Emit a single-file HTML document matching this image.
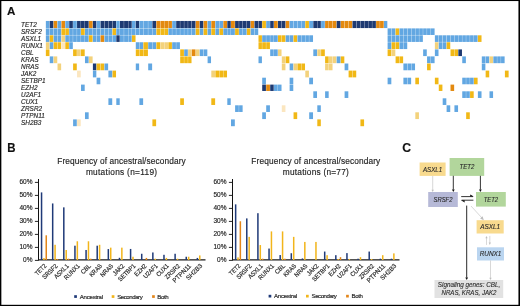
<!DOCTYPE html><html><head><meta charset="utf-8"><style>html,body{margin:0;padding:0;background:#fff;}body{width:520px;height:306px;overflow:hidden;position:relative;}svg{position:absolute;left:0;top:0;display:block;will-change:transform;}text{font-family:"Liberation Sans",sans-serif;stroke:#2a2a2a;stroke-width:0.16px;}.ns{stroke-width:0.12px;}</style></head><body><svg width="520" height="306" viewBox="0 0 520 306"><rect x="0" y="0" width="520" height="306" fill="#fff"/><text x="7" y="14.9" font-size="11.6" font-weight="bold" fill="#111">A</text><text x="7.2" y="151.7" font-size="12" font-weight="bold" fill="#111" textLength="8.3" lengthAdjust="spacingAndGlyphs">B</text><text x="402.2" y="151.6" font-size="12.2" font-weight="bold" fill="#111">C</text><text x="21.1" y="26.90" font-size="6.4" font-style="italic" fill="#2a2a2a">TET2</text><text x="21.1" y="33.90" font-size="6.4" font-style="italic" fill="#2a2a2a">SRSF2</text><text x="21.1" y="40.90" font-size="6.4" font-style="italic" fill="#2a2a2a">ASXL1</text><text x="21.1" y="47.90" font-size="6.4" font-style="italic" fill="#2a2a2a">RUNX1</text><text x="21.1" y="54.90" font-size="6.4" font-style="italic" fill="#2a2a2a">CBL</text><text x="21.1" y="61.90" font-size="6.4" font-style="italic" fill="#2a2a2a">KRAS</text><text x="21.1" y="68.90" font-size="6.4" font-style="italic" fill="#2a2a2a">NRAS</text><text x="21.1" y="75.90" font-size="6.4" font-style="italic" fill="#2a2a2a">JAK2</text><text x="21.1" y="82.90" font-size="6.4" font-style="italic" fill="#2a2a2a">SETBP1</text><text x="21.1" y="89.90" font-size="6.4" font-style="italic" fill="#2a2a2a">EZH2</text><text x="21.1" y="96.90" font-size="6.4" font-style="italic" fill="#2a2a2a">U2AF1</text><text x="21.1" y="103.90" font-size="6.4" font-style="italic" fill="#2a2a2a">CUX1</text><text x="21.1" y="110.90" font-size="6.4" font-style="italic" fill="#2a2a2a">ZRSR2</text><text x="21.1" y="117.90" font-size="6.4" font-style="italic" fill="#2a2a2a">PTPN11</text><text x="21.1" y="124.90" font-size="6.4" font-style="italic" fill="#2a2a2a">SH2B3</text><rect x="45.85" y="20.95" width="3.61" height="7.12" fill="#62a7e2"/><rect x="49.74" y="20.95" width="3.61" height="7.12" fill="#1e3a72"/><rect x="53.64" y="20.95" width="3.61" height="7.12" fill="#e3890f"/><rect x="57.53" y="20.95" width="3.61" height="7.12" fill="#62a7e2"/><rect x="61.42" y="20.95" width="3.61" height="7.12" fill="#e3890f"/><rect x="65.31" y="20.95" width="3.61" height="7.12" fill="#62a7e2"/><rect x="69.21" y="20.95" width="3.61" height="7.12" fill="#1e3a72"/><rect x="73.10" y="20.95" width="3.68" height="7.12" fill="#62a7e2"/><rect x="77.06" y="20.95" width="3.68" height="7.12" fill="#1e3a72"/><rect x="81.02" y="20.95" width="3.68" height="7.12" fill="#1e3a72"/><rect x="84.98" y="20.95" width="3.68" height="7.12" fill="#1e3a72"/><rect x="88.94" y="20.95" width="3.68" height="7.12" fill="#e3890f"/><rect x="92.90" y="20.95" width="3.42" height="7.12" fill="#1e3a72"/><rect x="96.60" y="20.95" width="3.72" height="7.12" fill="#62a7e2"/><rect x="100.60" y="20.95" width="3.62" height="7.12" fill="#1e3a72"/><rect x="104.50" y="20.95" width="3.62" height="7.12" fill="#1e3a72"/><rect x="108.40" y="20.95" width="3.82" height="7.12" fill="#1e3a72"/><rect x="112.50" y="20.95" width="3.52" height="7.12" fill="#1e3a72"/><rect x="116.30" y="20.95" width="3.42" height="7.12" fill="#62a7e2"/><rect x="120.00" y="20.95" width="3.82" height="7.12" fill="#1e3a72"/><rect x="124.10" y="20.95" width="3.92" height="7.12" fill="#1e3a72"/><rect x="128.30" y="20.95" width="3.42" height="7.12" fill="#1e3a72"/><rect x="132.00" y="20.95" width="3.52" height="7.12" fill="#62a7e2"/><rect x="135.80" y="20.95" width="3.32" height="7.12" fill="#1e3a72"/><rect x="139.40" y="20.95" width="3.72" height="7.12" fill="#62a7e2"/><rect x="143.40" y="20.95" width="4.52" height="7.12" fill="#62a7e2"/><rect x="148.20" y="20.95" width="3.92" height="7.12" fill="#62a7e2"/><rect x="152.40" y="20.95" width="3.72" height="7.12" fill="#1e3a72"/><rect x="156.40" y="20.95" width="3.92" height="7.12" fill="#e3890f"/><rect x="160.60" y="20.95" width="3.42" height="7.12" fill="#e3890f"/><rect x="164.30" y="20.95" width="3.82" height="7.12" fill="#e3890f"/><rect x="168.40" y="20.95" width="3.52" height="7.12" fill="#e3890f"/><rect x="172.20" y="20.95" width="3.72" height="7.12" fill="#62a7e2"/><rect x="176.20" y="20.95" width="3.72" height="7.12" fill="#1e3a72"/><rect x="180.20" y="20.95" width="3.72" height="7.12" fill="#1e3a72"/><rect x="184.20" y="20.95" width="3.62" height="7.12" fill="#1e3a72"/><rect x="188.10" y="20.95" width="3.42" height="7.12" fill="#1e3a72"/><rect x="191.80" y="20.95" width="3.72" height="7.12" fill="#1e3a72"/><rect x="195.80" y="20.95" width="3.72" height="7.12" fill="#e3890f"/><rect x="199.80" y="20.95" width="3.52" height="7.12" fill="#1e3a72"/><rect x="203.60" y="20.95" width="3.72" height="7.12" fill="#e3890f"/><rect x="207.60" y="20.95" width="3.42" height="7.12" fill="#62a7e2"/><rect x="211.30" y="20.95" width="3.82" height="7.12" fill="#e3890f"/><rect x="215.40" y="20.95" width="3.69" height="7.12" fill="#62a7e2"/><rect x="219.37" y="20.95" width="3.69" height="7.12" fill="#62a7e2"/><rect x="223.33" y="20.95" width="3.69" height="7.12" fill="#e3890f"/><rect x="227.30" y="20.95" width="3.42" height="7.12" fill="#1e3a72"/><rect x="231.00" y="20.95" width="3.82" height="7.12" fill="#e3890f"/><rect x="235.10" y="20.95" width="3.72" height="7.12" fill="#1e3a72"/><rect x="239.10" y="20.95" width="3.52" height="7.12" fill="#1e3a72"/><rect x="242.90" y="20.95" width="3.72" height="7.12" fill="#1e3a72"/><rect x="246.90" y="20.95" width="3.52" height="7.12" fill="#1e3a72"/><rect x="250.70" y="20.95" width="3.52" height="7.12" fill="#e3890f"/><rect x="254.50" y="20.95" width="3.72" height="7.12" fill="#1e3a72"/><rect x="258.50" y="20.95" width="3.42" height="7.12" fill="#1e3a72"/><rect x="262.20" y="20.95" width="3.72" height="7.12" fill="#f1b816"/><rect x="266.20" y="20.95" width="3.72" height="7.12" fill="#62a7e2"/><rect x="270.20" y="20.95" width="3.52" height="7.12" fill="#1e3a72"/><rect x="274.00" y="20.95" width="3.72" height="7.12" fill="#e3890f"/><rect x="278.00" y="20.95" width="3.52" height="7.12" fill="#1e3a72"/><rect x="281.80" y="20.95" width="3.64" height="7.12" fill="#1e3a72"/><rect x="285.72" y="20.95" width="3.64" height="7.12" fill="#e3890f"/><rect x="289.63" y="20.95" width="3.64" height="7.12" fill="#62a7e2"/><rect x="293.55" y="20.95" width="3.64" height="7.12" fill="#62a7e2"/><rect x="297.47" y="20.95" width="3.64" height="7.12" fill="#62a7e2"/><rect x="301.38" y="20.95" width="3.64" height="7.12" fill="#62a7e2"/><rect x="305.30" y="20.95" width="3.62" height="7.12" fill="#f1b816"/><rect x="309.20" y="20.95" width="3.82" height="7.12" fill="#62a7e2"/><rect x="313.30" y="20.95" width="3.72" height="7.12" fill="#1e3a72"/><rect x="317.30" y="20.95" width="3.52" height="7.12" fill="#1e3a72"/><rect x="321.10" y="20.95" width="3.72" height="7.12" fill="#62a7e2"/><rect x="325.10" y="20.95" width="3.57" height="7.12" fill="#e3890f"/><rect x="328.95" y="20.95" width="3.57" height="7.12" fill="#e3890f"/><rect x="332.80" y="20.95" width="3.62" height="7.12" fill="#e3890f"/><rect x="336.70" y="20.95" width="3.82" height="7.12" fill="#1e3a72"/><rect x="340.80" y="20.95" width="3.52" height="7.12" fill="#e3890f"/><rect x="344.60" y="20.95" width="3.72" height="7.12" fill="#e3890f"/><rect x="348.60" y="20.95" width="3.62" height="7.12" fill="#e3890f"/><rect x="352.50" y="20.95" width="3.72" height="7.12" fill="#1e3a72"/><rect x="356.50" y="20.95" width="3.65" height="7.12" fill="#1e3a72"/><rect x="360.43" y="20.95" width="3.65" height="7.12" fill="#1e3a72"/><rect x="364.36" y="20.95" width="3.65" height="7.12" fill="#1e3a72"/><rect x="368.29" y="20.95" width="3.65" height="7.12" fill="#1e3a72"/><rect x="372.21" y="20.95" width="3.65" height="7.12" fill="#1e3a72"/><rect x="376.14" y="20.95" width="3.65" height="7.12" fill="#e3890f"/><rect x="380.07" y="20.95" width="3.65" height="7.12" fill="#e3890f"/><rect x="384.00" y="20.95" width="3.32" height="7.12" fill="#62a7e2"/><rect x="45.85" y="28.40" width="3.61" height="6.57" fill="#62a7e2"/><rect x="49.74" y="28.40" width="3.61" height="6.57" fill="#62a7e2"/><rect x="53.64" y="28.40" width="3.61" height="6.57" fill="#62a7e2"/><rect x="57.53" y="28.40" width="3.61" height="6.57" fill="#62a7e2"/><rect x="61.42" y="28.40" width="3.61" height="6.57" fill="#f1b816"/><rect x="65.31" y="28.40" width="3.61" height="6.57" fill="#f1b816"/><rect x="69.21" y="28.40" width="3.61" height="6.57" fill="#62a7e2"/><rect x="73.10" y="28.40" width="3.68" height="6.57" fill="#62a7e2"/><rect x="77.06" y="28.40" width="3.68" height="6.57" fill="#62a7e2"/><rect x="81.02" y="28.40" width="3.68" height="6.57" fill="#f1b816"/><rect x="84.98" y="28.40" width="3.68" height="6.57" fill="#62a7e2"/><rect x="88.94" y="28.40" width="3.68" height="6.57" fill="#62a7e2"/><rect x="92.90" y="28.40" width="3.42" height="6.57" fill="#62a7e2"/><rect x="96.60" y="28.40" width="3.72" height="6.57" fill="#62a7e2"/><rect x="100.60" y="28.40" width="3.62" height="6.57" fill="#62a7e2"/><rect x="104.50" y="28.40" width="3.62" height="6.57" fill="#62a7e2"/><rect x="108.40" y="28.40" width="3.82" height="6.57" fill="#62a7e2"/><rect x="112.50" y="28.40" width="3.52" height="6.57" fill="#f1b816"/><rect x="116.30" y="28.40" width="3.42" height="6.57" fill="#62a7e2"/><rect x="120.00" y="28.40" width="3.82" height="6.57" fill="#62a7e2"/><rect x="124.10" y="28.40" width="3.92" height="6.57" fill="#62a7e2"/><rect x="128.30" y="28.40" width="3.42" height="6.57" fill="#62a7e2"/><rect x="132.00" y="28.40" width="3.52" height="6.57" fill="#62a7e2"/><rect x="135.80" y="28.40" width="3.32" height="6.57" fill="#62a7e2"/><rect x="139.40" y="28.40" width="3.72" height="6.57" fill="#62a7e2"/><rect x="143.40" y="28.40" width="4.52" height="6.57" fill="#62a7e2"/><rect x="148.20" y="28.40" width="3.92" height="6.57" fill="#62a7e2"/><rect x="152.40" y="28.40" width="3.72" height="6.57" fill="#62a7e2"/><rect x="156.40" y="28.40" width="3.92" height="6.57" fill="#f1b816"/><rect x="160.60" y="28.40" width="3.42" height="6.57" fill="#f1b816"/><rect x="164.30" y="28.40" width="3.82" height="6.57" fill="#f1b816"/><rect x="168.40" y="28.40" width="3.52" height="6.57" fill="#62a7e2"/><rect x="172.20" y="28.40" width="3.72" height="6.57" fill="#62a7e2"/><rect x="176.20" y="28.40" width="3.72" height="6.57" fill="#62a7e2"/><rect x="180.20" y="28.40" width="3.72" height="6.57" fill="#62a7e2"/><rect x="184.20" y="28.40" width="3.62" height="6.57" fill="#62a7e2"/><rect x="188.10" y="28.40" width="3.42" height="6.57" fill="#62a7e2"/><rect x="191.80" y="28.40" width="3.72" height="6.57" fill="#62a7e2"/><rect x="195.80" y="28.40" width="3.72" height="6.57" fill="#f1b816"/><rect x="199.80" y="28.40" width="3.52" height="6.57" fill="#62a7e2"/><rect x="203.60" y="28.40" width="3.72" height="6.57" fill="#f1b816"/><rect x="207.60" y="28.40" width="3.42" height="6.57" fill="#62a7e2"/><rect x="211.30" y="28.40" width="3.82" height="6.57" fill="#f1b816"/><rect x="215.40" y="28.40" width="3.69" height="6.57" fill="#62a7e2"/><rect x="219.37" y="28.40" width="3.69" height="6.57" fill="#f1b816"/><rect x="223.33" y="28.40" width="3.69" height="6.57" fill="#62a7e2"/><rect x="227.30" y="28.40" width="3.42" height="6.57" fill="#62a7e2"/><rect x="231.00" y="28.40" width="3.82" height="6.57" fill="#62a7e2"/><rect x="235.10" y="28.40" width="3.72" height="6.57" fill="#f1b816"/><rect x="239.10" y="28.40" width="3.52" height="6.57" fill="#62a7e2"/><rect x="242.90" y="28.40" width="3.72" height="6.57" fill="#62a7e2"/><rect x="246.90" y="28.40" width="3.52" height="6.57" fill="#f1b816"/><rect x="250.70" y="28.40" width="3.52" height="6.57" fill="#62a7e2"/><rect x="254.50" y="28.40" width="3.72" height="6.57" fill="#62a7e2"/><rect x="387.60" y="28.40" width="3.72" height="6.57" fill="#62a7e2"/><rect x="391.60" y="28.40" width="3.72" height="6.57" fill="#62a7e2"/><rect x="395.60" y="28.40" width="3.62" height="6.57" fill="#f1b816"/><rect x="399.50" y="28.40" width="3.62" height="6.57" fill="#62a7e2"/><rect x="403.40" y="28.40" width="3.82" height="6.57" fill="#62a7e2"/><rect x="407.50" y="28.40" width="3.63" height="6.57" fill="#62a7e2"/><rect x="411.41" y="28.40" width="3.63" height="6.57" fill="#62a7e2"/><rect x="415.32" y="28.40" width="3.63" height="6.57" fill="#62a7e2"/><rect x="419.23" y="28.40" width="3.63" height="6.57" fill="#62a7e2"/><rect x="423.14" y="28.40" width="3.63" height="6.57" fill="#62a7e2"/><rect x="427.05" y="28.40" width="3.63" height="6.57" fill="#62a7e2"/><rect x="430.96" y="28.40" width="3.63" height="6.57" fill="#62a7e2"/><rect x="45.85" y="35.30" width="3.61" height="6.62" fill="#62a7e2"/><rect x="49.74" y="35.30" width="3.61" height="6.62" fill="#f1b816"/><rect x="53.64" y="35.30" width="3.61" height="6.62" fill="#62a7e2"/><rect x="57.53" y="35.30" width="3.61" height="6.62" fill="#62a7e2"/><rect x="61.42" y="35.30" width="3.61" height="6.62" fill="#f3d27c"/><rect x="65.31" y="35.30" width="3.61" height="6.62" fill="#62a7e2"/><rect x="69.21" y="35.30" width="3.61" height="6.62" fill="#62a7e2"/><rect x="73.10" y="35.30" width="3.68" height="6.62" fill="#62a7e2"/><rect x="77.06" y="35.30" width="3.68" height="6.62" fill="#62a7e2"/><rect x="81.02" y="35.30" width="3.68" height="6.62" fill="#62a7e2"/><rect x="84.98" y="35.30" width="3.68" height="6.62" fill="#62a7e2"/><rect x="88.94" y="35.30" width="3.68" height="6.62" fill="#f1b816"/><rect x="92.90" y="35.30" width="3.42" height="6.62" fill="#62a7e2"/><rect x="96.60" y="35.30" width="3.72" height="6.62" fill="#62a7e2"/><rect x="100.60" y="35.30" width="3.62" height="6.62" fill="#e3890f"/><rect x="104.50" y="35.30" width="3.62" height="6.62" fill="#62a7e2"/><rect x="108.40" y="35.30" width="3.82" height="6.62" fill="#62a7e2"/><rect x="112.50" y="35.30" width="3.52" height="6.62" fill="#62a7e2"/><rect x="116.30" y="35.30" width="3.42" height="6.62" fill="#1e3a72"/><rect x="120.00" y="35.30" width="3.82" height="6.62" fill="#62a7e2"/><rect x="124.10" y="35.30" width="3.92" height="6.62" fill="#62a7e2"/><rect x="128.30" y="35.30" width="3.42" height="6.62" fill="#62a7e2"/><rect x="132.00" y="35.30" width="3.52" height="6.62" fill="#f1b816"/><rect x="258.50" y="35.30" width="3.42" height="6.62" fill="#f1b816"/><rect x="262.20" y="35.30" width="3.72" height="6.62" fill="#62a7e2"/><rect x="266.20" y="35.30" width="3.72" height="6.62" fill="#62a7e2"/><rect x="270.20" y="35.30" width="3.52" height="6.62" fill="#62a7e2"/><rect x="274.00" y="35.30" width="3.72" height="6.62" fill="#62a7e2"/><rect x="278.00" y="35.30" width="3.52" height="6.62" fill="#f1b816"/><rect x="281.80" y="35.30" width="3.64" height="6.62" fill="#f1b816"/><rect x="285.72" y="35.30" width="3.64" height="6.62" fill="#62a7e2"/><rect x="289.63" y="35.30" width="3.64" height="6.62" fill="#62a7e2"/><rect x="293.55" y="35.30" width="3.64" height="6.62" fill="#f1b816"/><rect x="297.47" y="35.30" width="3.64" height="6.62" fill="#62a7e2"/><rect x="301.38" y="35.30" width="3.64" height="6.62" fill="#62a7e2"/><rect x="305.30" y="35.30" width="3.62" height="6.62" fill="#62a7e2"/><rect x="309.20" y="35.30" width="3.82" height="6.62" fill="#62a7e2"/><rect x="387.60" y="35.30" width="3.72" height="6.62" fill="#62a7e2"/><rect x="391.60" y="35.30" width="3.72" height="6.62" fill="#62a7e2"/><rect x="395.60" y="35.30" width="3.62" height="6.62" fill="#62a7e2"/><rect x="399.50" y="35.30" width="3.62" height="6.62" fill="#62a7e2"/><rect x="403.40" y="35.30" width="3.82" height="6.62" fill="#62a7e2"/><rect x="407.50" y="35.30" width="3.63" height="6.62" fill="#62a7e2"/><rect x="411.41" y="35.30" width="3.63" height="6.62" fill="#62a7e2"/><rect x="415.32" y="35.30" width="3.63" height="6.62" fill="#62a7e2"/><rect x="419.23" y="35.30" width="3.63" height="6.62" fill="#62a7e2"/><rect x="434.87" y="35.30" width="3.63" height="6.62" fill="#62a7e2"/><rect x="438.78" y="35.30" width="3.63" height="6.62" fill="#62a7e2"/><rect x="442.69" y="35.30" width="3.63" height="6.62" fill="#62a7e2"/><rect x="446.61" y="35.30" width="3.63" height="6.62" fill="#62a7e2"/><rect x="450.52" y="35.30" width="3.63" height="6.62" fill="#62a7e2"/><rect x="454.43" y="35.30" width="3.63" height="6.62" fill="#62a7e2"/><rect x="458.34" y="35.30" width="3.63" height="6.62" fill="#62a7e2"/><rect x="462.25" y="35.30" width="3.63" height="6.62" fill="#62a7e2"/><rect x="466.16" y="35.30" width="3.63" height="6.62" fill="#62a7e2"/><rect x="470.07" y="35.30" width="3.63" height="6.62" fill="#62a7e2"/><rect x="473.98" y="35.30" width="3.63" height="6.62" fill="#62a7e2"/><rect x="477.89" y="35.30" width="3.63" height="6.62" fill="#f1b816"/><rect x="45.85" y="42.25" width="3.61" height="6.82" fill="#f3d27c"/><rect x="49.74" y="42.25" width="3.61" height="6.82" fill="#62a7e2"/><rect x="53.64" y="42.25" width="3.61" height="6.82" fill="#f1b816"/><rect x="57.53" y="42.25" width="3.61" height="6.82" fill="#f1b816"/><rect x="61.42" y="42.25" width="3.61" height="6.82" fill="#fbe6bf"/><rect x="65.31" y="42.25" width="3.61" height="6.82" fill="#f1b816"/><rect x="69.21" y="42.25" width="3.61" height="6.82" fill="#62a7e2"/><rect x="135.80" y="42.25" width="3.32" height="6.82" fill="#62a7e2"/><rect x="139.40" y="42.25" width="3.72" height="6.82" fill="#62a7e2"/><rect x="143.40" y="42.25" width="4.52" height="6.82" fill="#f1b816"/><rect x="148.20" y="42.25" width="3.92" height="6.82" fill="#62a7e2"/><rect x="152.40" y="42.25" width="3.72" height="6.82" fill="#62a7e2"/><rect x="156.40" y="42.25" width="3.92" height="6.82" fill="#f1b816"/><rect x="160.60" y="42.25" width="3.42" height="6.82" fill="#f3d27c"/><rect x="164.30" y="42.25" width="3.82" height="6.82" fill="#f3d27c"/><rect x="168.40" y="42.25" width="3.52" height="6.82" fill="#f1b816"/><rect x="172.20" y="42.25" width="3.72" height="6.82" fill="#62a7e2"/><rect x="176.20" y="42.25" width="3.72" height="6.82" fill="#62a7e2"/><rect x="258.50" y="42.25" width="3.42" height="6.82" fill="#f1b816"/><rect x="262.20" y="42.25" width="3.72" height="6.82" fill="#f1b816"/><rect x="266.20" y="42.25" width="3.72" height="6.82" fill="#f1b816"/><rect x="387.60" y="42.25" width="3.72" height="6.82" fill="#62a7e2"/><rect x="391.60" y="42.25" width="3.72" height="6.82" fill="#f1b816"/><rect x="395.60" y="42.25" width="3.62" height="6.82" fill="#f1b816"/><rect x="399.50" y="42.25" width="3.62" height="6.82" fill="#62a7e2"/><rect x="403.40" y="42.25" width="3.82" height="6.82" fill="#62a7e2"/><rect x="434.87" y="42.25" width="3.63" height="6.82" fill="#f3d27c"/><rect x="438.78" y="42.25" width="3.63" height="6.82" fill="#62a7e2"/><rect x="442.69" y="42.25" width="3.63" height="6.82" fill="#62a7e2"/><rect x="446.61" y="42.25" width="3.63" height="6.82" fill="#f1b816"/><rect x="45.85" y="49.40" width="3.61" height="6.67" fill="#f1b816"/><rect x="73.10" y="49.40" width="3.68" height="6.67" fill="#f1b816"/><rect x="77.06" y="49.40" width="3.68" height="6.67" fill="#f3d27c"/><rect x="81.02" y="49.40" width="3.68" height="6.67" fill="#f1b816"/><rect x="135.80" y="49.40" width="3.32" height="6.67" fill="#f1b816"/><rect x="139.40" y="49.40" width="3.72" height="6.67" fill="#f1b816"/><rect x="143.40" y="49.40" width="4.52" height="6.67" fill="#f1b816"/><rect x="180.20" y="49.40" width="3.72" height="6.67" fill="#f1b816"/><rect x="184.20" y="49.40" width="3.62" height="6.67" fill="#62a7e2"/><rect x="188.10" y="49.40" width="3.42" height="6.67" fill="#f3d27c"/><rect x="191.80" y="49.40" width="3.72" height="6.67" fill="#e3890f"/><rect x="195.80" y="49.40" width="3.72" height="6.67" fill="#f3d27c"/><rect x="199.80" y="49.40" width="3.52" height="6.67" fill="#62a7e2"/><rect x="203.60" y="49.40" width="3.72" height="6.67" fill="#62a7e2"/><rect x="270.20" y="49.40" width="3.52" height="6.67" fill="#62a7e2"/><rect x="274.00" y="49.40" width="3.72" height="6.67" fill="#62a7e2"/><rect x="278.00" y="49.40" width="3.52" height="6.67" fill="#f3d27c"/><rect x="313.30" y="49.40" width="3.72" height="6.67" fill="#62a7e2"/><rect x="317.30" y="49.40" width="3.52" height="6.67" fill="#f3d27c"/><rect x="321.10" y="49.40" width="3.72" height="6.67" fill="#f1b816"/><rect x="387.60" y="49.40" width="3.72" height="6.67" fill="#f1b816"/><rect x="391.60" y="49.40" width="3.72" height="6.67" fill="#f3d27c"/><rect x="423.14" y="49.40" width="3.63" height="6.67" fill="#62a7e2"/><rect x="434.87" y="49.40" width="3.63" height="6.67" fill="#62a7e2"/><rect x="450.52" y="49.40" width="3.63" height="6.67" fill="#f1b816"/><rect x="454.43" y="49.40" width="3.63" height="6.67" fill="#f1b816"/><rect x="458.34" y="49.40" width="3.63" height="6.67" fill="#1e3a72"/><rect x="49.74" y="56.40" width="3.61" height="6.77" fill="#62a7e2"/><rect x="53.64" y="56.40" width="3.61" height="6.77" fill="#f3d27c"/><rect x="84.98" y="56.40" width="3.68" height="6.77" fill="#62a7e2"/><rect x="88.94" y="56.40" width="3.68" height="6.77" fill="#f3d27c"/><rect x="180.20" y="56.40" width="3.72" height="6.77" fill="#f1b816"/><rect x="184.20" y="56.40" width="3.62" height="6.77" fill="#f1b816"/><rect x="188.10" y="56.40" width="3.42" height="6.77" fill="#f1b816"/><rect x="207.60" y="56.40" width="3.42" height="6.77" fill="#62a7e2"/><rect x="258.50" y="56.40" width="3.42" height="6.77" fill="#62a7e2"/><rect x="281.80" y="56.40" width="3.64" height="6.77" fill="#f3d27c"/><rect x="285.72" y="56.40" width="3.64" height="6.77" fill="#f1b816"/><rect x="325.10" y="56.40" width="3.57" height="6.77" fill="#f1b816"/><rect x="328.95" y="56.40" width="3.57" height="6.77" fill="#f3d27c"/><rect x="332.80" y="56.40" width="3.62" height="6.77" fill="#f3d27c"/><rect x="336.70" y="56.40" width="3.82" height="6.77" fill="#62a7e2"/><rect x="340.80" y="56.40" width="3.52" height="6.77" fill="#f1b816"/><rect x="395.60" y="56.40" width="3.62" height="6.77" fill="#f1b816"/><rect x="399.50" y="56.40" width="3.62" height="6.77" fill="#f1b816"/><rect x="427.05" y="56.40" width="3.63" height="6.77" fill="#62a7e2"/><rect x="430.96" y="56.40" width="3.63" height="6.77" fill="#62a7e2"/><rect x="462.25" y="56.40" width="3.63" height="6.77" fill="#62a7e2"/><rect x="481.80" y="56.40" width="3.57" height="6.77" fill="#62a7e2"/><rect x="485.65" y="56.40" width="3.57" height="6.77" fill="#62a7e2"/><rect x="489.50" y="56.40" width="3.57" height="6.77" fill="#f3d27c"/><rect x="493.35" y="56.40" width="3.57" height="6.77" fill="#62a7e2"/><rect x="497.20" y="56.40" width="3.57" height="6.77" fill="#62a7e2"/><rect x="501.05" y="56.40" width="3.57" height="6.77" fill="#62a7e2"/><rect x="57.53" y="63.50" width="3.61" height="6.77" fill="#f3d27c"/><rect x="73.10" y="63.50" width="3.68" height="6.77" fill="#f1b816"/><rect x="92.90" y="63.50" width="3.42" height="6.77" fill="#1e3a72"/><rect x="96.60" y="63.50" width="3.72" height="6.77" fill="#f1b816"/><rect x="100.60" y="63.50" width="3.62" height="6.77" fill="#f1b816"/><rect x="104.50" y="63.50" width="3.62" height="6.77" fill="#62a7e2"/><rect x="135.80" y="63.50" width="3.32" height="6.77" fill="#62a7e2"/><rect x="148.20" y="63.50" width="3.92" height="6.77" fill="#62a7e2"/><rect x="281.80" y="63.50" width="3.64" height="6.77" fill="#f3d27c"/><rect x="289.63" y="63.50" width="3.64" height="6.77" fill="#62a7e2"/><rect x="293.55" y="63.50" width="3.64" height="6.77" fill="#f3d27c"/><rect x="297.47" y="63.50" width="3.64" height="6.77" fill="#f1b816"/><rect x="301.38" y="63.50" width="3.64" height="6.77" fill="#f1b816"/><rect x="325.10" y="63.50" width="3.57" height="6.77" fill="#f3d27c"/><rect x="328.95" y="63.50" width="3.57" height="6.77" fill="#f3d27c"/><rect x="344.60" y="63.50" width="3.72" height="6.77" fill="#62a7e2"/><rect x="403.40" y="63.50" width="3.82" height="6.77" fill="#62a7e2"/><rect x="407.50" y="63.50" width="3.63" height="6.77" fill="#62a7e2"/><rect x="411.41" y="63.50" width="3.63" height="6.77" fill="#62a7e2"/><rect x="427.05" y="63.50" width="3.63" height="6.77" fill="#f1b816"/><rect x="481.80" y="63.50" width="3.57" height="6.77" fill="#62a7e2"/><rect x="77.06" y="70.60" width="3.68" height="6.77" fill="#fbe6bf"/><rect x="92.90" y="70.60" width="3.42" height="6.77" fill="#62a7e2"/><rect x="108.40" y="70.60" width="3.82" height="6.77" fill="#62a7e2"/><rect x="112.50" y="70.60" width="3.52" height="6.77" fill="#f1b816"/><rect x="211.30" y="70.60" width="3.82" height="6.77" fill="#f3d27c"/><rect x="215.40" y="70.60" width="3.69" height="6.77" fill="#f1b816"/><rect x="219.37" y="70.60" width="3.69" height="6.77" fill="#f1b816"/><rect x="223.33" y="70.60" width="3.69" height="6.77" fill="#f1b816"/><rect x="305.30" y="70.60" width="3.62" height="6.77" fill="#f3d27c"/><rect x="348.60" y="70.60" width="3.62" height="6.77" fill="#f1b816"/><rect x="352.50" y="70.60" width="3.72" height="6.77" fill="#f1b816"/><rect x="485.65" y="70.60" width="3.57" height="6.77" fill="#f1b816"/><rect x="504.90" y="70.60" width="3.72" height="6.77" fill="#f1b816"/><rect x="96.60" y="77.70" width="3.72" height="6.57" fill="#62a7e2"/><rect x="262.20" y="77.70" width="3.72" height="6.57" fill="#62a7e2"/><rect x="289.63" y="77.70" width="3.64" height="6.57" fill="#62a7e2"/><rect x="309.20" y="77.70" width="3.82" height="6.57" fill="#62a7e2"/><rect x="387.60" y="77.70" width="3.72" height="6.57" fill="#62a7e2"/><rect x="403.40" y="77.70" width="3.82" height="6.57" fill="#62a7e2"/><rect x="407.50" y="77.70" width="3.63" height="6.57" fill="#62a7e2"/><rect x="415.32" y="77.70" width="3.63" height="6.57" fill="#f1b816"/><rect x="434.87" y="77.70" width="3.63" height="6.57" fill="#f1b816"/><rect x="462.25" y="77.70" width="3.63" height="6.57" fill="#62a7e2"/><rect x="466.16" y="77.70" width="3.63" height="6.57" fill="#62a7e2"/><rect x="470.07" y="77.70" width="3.63" height="6.57" fill="#62a7e2"/><rect x="473.98" y="77.70" width="3.63" height="6.57" fill="#f1b816"/><rect x="81.02" y="84.60" width="3.68" height="6.37" fill="#62a7e2"/><rect x="262.20" y="84.60" width="3.72" height="6.37" fill="#1e3a72"/><rect x="266.20" y="84.60" width="3.72" height="6.37" fill="#e3890f"/><rect x="270.20" y="84.60" width="3.52" height="6.37" fill="#1e3a72"/><rect x="274.00" y="84.60" width="3.72" height="6.37" fill="#62a7e2"/><rect x="278.00" y="84.60" width="3.52" height="6.37" fill="#62a7e2"/><rect x="289.63" y="84.60" width="3.64" height="6.37" fill="#62a7e2"/><rect x="438.78" y="84.60" width="3.63" height="6.37" fill="#f1b816"/><rect x="450.52" y="84.60" width="3.63" height="6.37" fill="#e3890f"/><rect x="313.30" y="91.30" width="3.72" height="6.67" fill="#62a7e2"/><rect x="325.10" y="91.30" width="3.57" height="6.67" fill="#62a7e2"/><rect x="344.60" y="91.30" width="3.72" height="6.67" fill="#62a7e2"/><rect x="462.25" y="91.30" width="3.63" height="6.67" fill="#62a7e2"/><rect x="466.16" y="91.30" width="3.63" height="6.67" fill="#62a7e2"/><rect x="470.07" y="91.30" width="3.63" height="6.67" fill="#f1b816"/><rect x="477.89" y="91.30" width="3.63" height="6.67" fill="#62a7e2"/><rect x="489.50" y="91.30" width="3.57" height="6.67" fill="#62a7e2"/><rect x="108.40" y="98.30" width="3.82" height="6.67" fill="#62a7e2"/><rect x="116.30" y="98.30" width="3.42" height="6.67" fill="#62a7e2"/><rect x="139.40" y="98.30" width="3.72" height="6.67" fill="#62a7e2"/><rect x="180.20" y="98.30" width="3.72" height="6.67" fill="#f1b816"/><rect x="211.30" y="98.30" width="3.82" height="6.67" fill="#f1b816"/><rect x="227.30" y="98.30" width="3.42" height="6.67" fill="#62a7e2"/><rect x="442.69" y="98.30" width="3.63" height="6.67" fill="#62a7e2"/><rect x="235.10" y="105.30" width="3.72" height="6.67" fill="#62a7e2"/><rect x="239.10" y="105.30" width="3.52" height="6.67" fill="#62a7e2"/><rect x="266.20" y="105.30" width="3.72" height="6.67" fill="#62a7e2"/><rect x="281.80" y="105.30" width="3.64" height="6.67" fill="#fbe6bf"/><rect x="317.30" y="105.30" width="3.52" height="6.67" fill="#62a7e2"/><rect x="446.61" y="105.30" width="3.63" height="6.67" fill="#62a7e2"/><rect x="454.43" y="105.30" width="3.63" height="6.67" fill="#62a7e2"/><rect x="84.98" y="112.30" width="3.68" height="6.77" fill="#62a7e2"/><rect x="262.20" y="112.30" width="3.72" height="6.77" fill="#62a7e2"/><rect x="293.55" y="112.30" width="3.64" height="6.77" fill="#f1b816"/><rect x="309.20" y="112.30" width="3.82" height="6.77" fill="#62a7e2"/><rect x="415.32" y="112.30" width="3.63" height="6.77" fill="#f3d27c"/><rect x="466.16" y="112.30" width="3.63" height="6.77" fill="#f1b816"/><rect x="73.10" y="119.40" width="3.68" height="6.80" fill="#62a7e2"/><rect x="77.06" y="119.40" width="3.68" height="6.80" fill="#fbe6bf"/><rect x="152.40" y="119.40" width="3.72" height="6.80" fill="#f1b816"/><rect x="231.00" y="119.40" width="3.82" height="6.80" fill="#62a7e2"/><rect x="317.30" y="119.40" width="3.52" height="6.80" fill="#f1b816"/><rect x="360.43" y="119.40" width="3.65" height="6.80" fill="#f1b816"/><text x="121.5" y="164.3" font-size="8.3" text-anchor="middle" fill="#222" textLength="128.4">Frequency of ancestral/secondary</text><text x="121.5" y="174.6" font-size="8.3" text-anchor="middle" fill="#222" textLength="71.2">mutations (n=119)</text><line x1="38.5" y1="179.00" x2="38.5" y2="260.5" stroke="#111" stroke-width="1.0"/><line x1="34.9" y1="260.40" x2="38.5" y2="260.40" stroke="#1a1a1a" stroke-width="0.95"/><text x="32.5" y="262.30" font-size="6.5" text-anchor="end" fill="#222">0%</text><line x1="34.9" y1="247.40" x2="38.5" y2="247.40" stroke="#1a1a1a" stroke-width="0.95"/><text x="32.5" y="249.30" font-size="6.5" text-anchor="end" fill="#222">10%</text><line x1="34.9" y1="234.40" x2="38.5" y2="234.40" stroke="#1a1a1a" stroke-width="0.95"/><text x="32.5" y="236.30" font-size="6.5" text-anchor="end" fill="#222">20%</text><line x1="34.9" y1="221.40" x2="38.5" y2="221.40" stroke="#1a1a1a" stroke-width="0.95"/><text x="32.5" y="223.30" font-size="6.5" text-anchor="end" fill="#222">30%</text><line x1="34.9" y1="208.40" x2="38.5" y2="208.40" stroke="#1a1a1a" stroke-width="0.95"/><text x="32.5" y="210.30" font-size="6.5" text-anchor="end" fill="#222">40%</text><line x1="34.9" y1="195.40" x2="38.5" y2="195.40" stroke="#1a1a1a" stroke-width="0.95"/><text x="32.5" y="197.30" font-size="6.5" text-anchor="end" fill="#222">50%</text><line x1="34.9" y1="182.40" x2="38.5" y2="182.40" stroke="#1a1a1a" stroke-width="0.95"/><text x="32.5" y="184.30" font-size="6.5" text-anchor="end" fill="#222">60%</text><line x1="38.1" y1="259.8" x2="205.5" y2="259.8" stroke="#1a1a1a" stroke-width="1.3"/><rect x="40.80" y="192.40" width="1.5" height="67.60" fill="#1f3a78"/><rect x="43.20" y="258.05" width="1.5" height="1.95" fill="#f2b51b"/><rect x="45.50" y="235.30" width="1.5" height="24.70" fill="#e3861a"/><text x="0" y="0" font-size="6.3" text-anchor="end" fill="#222" textLength="13.41" lengthAdjust="spacingAndGlyphs" transform="translate(46.90,266.40) rotate(-45)">TET2</text><rect x="51.93" y="203.45" width="1.5" height="56.55" fill="#1f3a78"/><rect x="54.33" y="244.79" width="1.5" height="15.21" fill="#f2b51b"/><rect x="56.63" y="258.96" width="1.5" height="1.04" fill="#e3861a"/><text x="0" y="0" font-size="6.3" text-anchor="end" fill="#222" textLength="18.68" lengthAdjust="spacingAndGlyphs" transform="translate(58.03,266.40) rotate(-45)">SRSF2</text><rect x="63.06" y="207.35" width="1.5" height="52.65" fill="#1f3a78"/><rect x="65.46" y="249.99" width="1.5" height="10.01" fill="#f2b51b"/><rect x="67.76" y="258.70" width="1.5" height="1.30" fill="#e3861a"/><text x="0" y="0" font-size="6.3" text-anchor="end" fill="#222" textLength="18.04" lengthAdjust="spacingAndGlyphs" transform="translate(69.16,266.40) rotate(-45)">ASXL1</text><rect x="74.19" y="245.70" width="1.5" height="14.30" fill="#1f3a78"/><rect x="76.59" y="241.28" width="1.5" height="18.72" fill="#f2b51b"/><text x="0" y="0" font-size="6.3" text-anchor="end" fill="#222" textLength="19.44" lengthAdjust="spacingAndGlyphs" transform="translate(80.29,266.40) rotate(-45)">RUNX1</text><rect x="85.32" y="249.99" width="1.5" height="10.01" fill="#1f3a78"/><rect x="87.72" y="241.28" width="1.5" height="18.72" fill="#f2b51b"/><rect x="90.02" y="258.70" width="1.5" height="1.30" fill="#e3861a"/><text x="0" y="0" font-size="6.3" text-anchor="end" fill="#222" textLength="11.64" lengthAdjust="spacingAndGlyphs" transform="translate(91.42,266.40) rotate(-45)">CBL</text><rect x="96.45" y="245.70" width="1.5" height="14.30" fill="#1f3a78"/><rect x="98.85" y="244.79" width="1.5" height="15.21" fill="#f2b51b"/><text x="0" y="0" font-size="6.3" text-anchor="end" fill="#222" textLength="15.44" lengthAdjust="spacingAndGlyphs" transform="translate(102.55,266.40) rotate(-45)">KRAS</text><rect x="107.58" y="249.08" width="1.5" height="10.92" fill="#1f3a78"/><rect x="109.98" y="247.65" width="1.5" height="12.35" fill="#f2b51b"/><text x="0" y="0" font-size="6.3" text-anchor="end" fill="#222" textLength="15.58" lengthAdjust="spacingAndGlyphs" transform="translate(113.68,266.40) rotate(-45)">NRAS</text><rect x="118.71" y="257.79" width="1.5" height="2.21" fill="#1f3a78"/><rect x="121.11" y="247.65" width="1.5" height="12.35" fill="#f2b51b"/><text x="0" y="0" font-size="6.3" text-anchor="end" fill="#222" textLength="13.70" lengthAdjust="spacingAndGlyphs" transform="translate(124.81,266.40) rotate(-45)">JAK2</text><rect x="129.84" y="248.95" width="1.5" height="11.05" fill="#1f3a78"/><rect x="132.24" y="256.75" width="1.5" height="3.25" fill="#f2b51b"/><text x="0" y="0" font-size="6.3" text-anchor="end" fill="#222" textLength="21.74" lengthAdjust="spacingAndGlyphs" transform="translate(135.94,266.40) rotate(-45)">SETBP1</text><rect x="140.97" y="253.76" width="1.5" height="6.24" fill="#1f3a78"/><rect x="145.67" y="257.92" width="1.5" height="2.08" fill="#e3861a"/><text x="0" y="0" font-size="6.3" text-anchor="end" fill="#222" textLength="14.50" lengthAdjust="spacingAndGlyphs" transform="translate(147.07,266.40) rotate(-45)">EZH2</text><rect x="152.10" y="252.46" width="1.5" height="7.54" fill="#1f3a78"/><rect x="154.50" y="258.70" width="1.5" height="1.30" fill="#f2b51b"/><text x="0" y="0" font-size="6.3" text-anchor="end" fill="#222" textLength="17.65" lengthAdjust="spacingAndGlyphs" transform="translate(158.20,266.40) rotate(-45)">U2AF1</text><rect x="163.23" y="254.80" width="1.5" height="5.20" fill="#1f3a78"/><rect x="165.63" y="257.92" width="1.5" height="2.08" fill="#f2b51b"/><text x="0" y="0" font-size="6.3" text-anchor="end" fill="#222" textLength="15.12" lengthAdjust="spacingAndGlyphs" transform="translate(169.33,266.40) rotate(-45)">CUX1</text><rect x="174.36" y="253.76" width="1.5" height="6.24" fill="#1f3a78"/><rect x="176.76" y="258.70" width="1.5" height="1.30" fill="#f2b51b"/><text x="0" y="0" font-size="6.3" text-anchor="end" fill="#222" textLength="18.59" lengthAdjust="spacingAndGlyphs" transform="translate(180.46,266.40) rotate(-45)">ZRSR2</text><rect x="185.49" y="256.75" width="1.5" height="3.25" fill="#1f3a78"/><rect x="187.89" y="256.75" width="1.5" height="3.25" fill="#f2b51b"/><text x="0" y="0" font-size="6.3" text-anchor="end" fill="#222" textLength="23.34" lengthAdjust="spacingAndGlyphs" transform="translate(191.59,266.40) rotate(-45)">PTPN11</text><rect x="196.62" y="257.92" width="1.5" height="2.08" fill="#1f3a78"/><rect x="199.02" y="255.45" width="1.5" height="4.55" fill="#f2b51b"/><text x="0" y="0" font-size="6.3" text-anchor="end" fill="#222" textLength="19.95" lengthAdjust="spacingAndGlyphs" transform="translate(202.72,266.40) rotate(-45)">SH2B3</text><text x="315.8" y="164.3" font-size="8.3" text-anchor="middle" fill="#222" textLength="128.9">Frequency of ancestral/secondary</text><text x="315.8" y="174.6" font-size="8.3" text-anchor="middle" fill="#222" textLength="65.9">mutations (n=77)</text><line x1="232.5" y1="179.00" x2="232.5" y2="260.5" stroke="#111" stroke-width="1.0"/><line x1="228.9" y1="260.40" x2="232.5" y2="260.40" stroke="#1a1a1a" stroke-width="0.95"/><text x="226.5" y="262.30" font-size="6.5" text-anchor="end" fill="#222">0%</text><line x1="228.9" y1="247.40" x2="232.5" y2="247.40" stroke="#1a1a1a" stroke-width="0.95"/><text x="226.5" y="249.30" font-size="6.5" text-anchor="end" fill="#222">10%</text><line x1="228.9" y1="234.40" x2="232.5" y2="234.40" stroke="#1a1a1a" stroke-width="0.95"/><text x="226.5" y="236.30" font-size="6.5" text-anchor="end" fill="#222">20%</text><line x1="228.9" y1="221.40" x2="232.5" y2="221.40" stroke="#1a1a1a" stroke-width="0.95"/><text x="226.5" y="223.30" font-size="6.5" text-anchor="end" fill="#222">30%</text><line x1="228.9" y1="208.40" x2="232.5" y2="208.40" stroke="#1a1a1a" stroke-width="0.95"/><text x="226.5" y="210.30" font-size="6.5" text-anchor="end" fill="#222">40%</text><line x1="228.9" y1="195.40" x2="232.5" y2="195.40" stroke="#1a1a1a" stroke-width="0.95"/><text x="226.5" y="197.30" font-size="6.5" text-anchor="end" fill="#222">50%</text><line x1="228.9" y1="182.40" x2="232.5" y2="182.40" stroke="#1a1a1a" stroke-width="0.95"/><text x="226.5" y="184.30" font-size="6.5" text-anchor="end" fill="#222">60%</text><line x1="232.1" y1="259.8" x2="399.5" y2="259.8" stroke="#1a1a1a" stroke-width="1.3"/><rect x="234.90" y="204.36" width="1.5" height="55.64" fill="#1f3a78"/><rect x="237.30" y="257.40" width="1.5" height="2.60" fill="#f2b51b"/><rect x="239.60" y="221.26" width="1.5" height="38.74" fill="#e3861a"/><text x="0" y="0" font-size="6.3" text-anchor="end" fill="#222" textLength="13.41" lengthAdjust="spacingAndGlyphs" transform="translate(241.00,266.40) rotate(-45)">TET2</text><rect x="246.03" y="218.40" width="1.5" height="41.60" fill="#1f3a78"/><rect x="248.43" y="236.86" width="1.5" height="23.14" fill="#f2b51b"/><text x="0" y="0" font-size="6.3" text-anchor="end" fill="#222" textLength="18.68" lengthAdjust="spacingAndGlyphs" transform="translate(252.13,266.40) rotate(-45)">SRSF2</text><rect x="257.16" y="213.20" width="1.5" height="46.80" fill="#1f3a78"/><rect x="259.56" y="245.05" width="1.5" height="14.95" fill="#f2b51b"/><rect x="261.86" y="258.70" width="1.5" height="1.30" fill="#e3861a"/><text x="0" y="0" font-size="6.3" text-anchor="end" fill="#222" textLength="18.04" lengthAdjust="spacingAndGlyphs" transform="translate(263.26,266.40) rotate(-45)">ASXL1</text><rect x="268.29" y="248.56" width="1.5" height="11.44" fill="#1f3a78"/><rect x="270.69" y="231.40" width="1.5" height="28.60" fill="#f2b51b"/><text x="0" y="0" font-size="6.3" text-anchor="end" fill="#222" textLength="19.44" lengthAdjust="spacingAndGlyphs" transform="translate(274.39,266.40) rotate(-45)">RUNX1</text><rect x="279.42" y="255.06" width="1.5" height="4.94" fill="#1f3a78"/><rect x="281.82" y="231.40" width="1.5" height="28.60" fill="#f2b51b"/><rect x="284.12" y="258.70" width="1.5" height="1.30" fill="#e3861a"/><text x="0" y="0" font-size="6.3" text-anchor="end" fill="#222" textLength="11.64" lengthAdjust="spacingAndGlyphs" transform="translate(285.52,266.40) rotate(-45)">CBL</text><rect x="290.55" y="253.24" width="1.5" height="6.76" fill="#1f3a78"/><rect x="292.95" y="236.86" width="1.5" height="23.14" fill="#f2b51b"/><text x="0" y="0" font-size="6.3" text-anchor="end" fill="#222" textLength="15.44" lengthAdjust="spacingAndGlyphs" transform="translate(296.65,266.40) rotate(-45)">KRAS</text><rect x="301.68" y="258.44" width="1.5" height="1.56" fill="#1f3a78"/><rect x="304.08" y="241.93" width="1.5" height="18.07" fill="#f2b51b"/><text x="0" y="0" font-size="6.3" text-anchor="end" fill="#222" textLength="15.58" lengthAdjust="spacingAndGlyphs" transform="translate(307.78,266.40) rotate(-45)">NRAS</text><rect x="315.21" y="241.93" width="1.5" height="18.07" fill="#f2b51b"/><text x="0" y="0" font-size="6.3" text-anchor="end" fill="#222" textLength="13.70" lengthAdjust="spacingAndGlyphs" transform="translate(318.91,266.40) rotate(-45)">JAK2</text><rect x="323.94" y="251.55" width="1.5" height="8.45" fill="#1f3a78"/><rect x="326.34" y="255.19" width="1.5" height="4.81" fill="#f2b51b"/><text x="0" y="0" font-size="6.3" text-anchor="end" fill="#222" textLength="21.74" lengthAdjust="spacingAndGlyphs" transform="translate(330.04,266.40) rotate(-45)">SETBP1</text><rect x="335.07" y="255.19" width="1.5" height="4.81" fill="#1f3a78"/><rect x="337.47" y="258.96" width="1.5" height="1.04" fill="#f2b51b"/><rect x="339.77" y="257.14" width="1.5" height="2.86" fill="#e3861a"/><text x="0" y="0" font-size="6.3" text-anchor="end" fill="#222" textLength="14.50" lengthAdjust="spacingAndGlyphs" transform="translate(341.17,266.40) rotate(-45)">EZH2</text><rect x="346.20" y="253.11" width="1.5" height="6.89" fill="#1f3a78"/><rect x="348.60" y="258.96" width="1.5" height="1.04" fill="#f2b51b"/><text x="0" y="0" font-size="6.3" text-anchor="end" fill="#222" textLength="17.65" lengthAdjust="spacingAndGlyphs" transform="translate(352.30,266.40) rotate(-45)">U2AF1</text><rect x="357.33" y="258.70" width="1.5" height="1.30" fill="#1f3a78"/><rect x="359.73" y="257.14" width="1.5" height="2.86" fill="#f2b51b"/><text x="0" y="0" font-size="6.3" text-anchor="end" fill="#222" textLength="15.12" lengthAdjust="spacingAndGlyphs" transform="translate(363.43,266.40) rotate(-45)">CUX1</text><rect x="368.46" y="251.55" width="1.5" height="8.45" fill="#1f3a78"/><rect x="370.86" y="258.96" width="1.5" height="1.04" fill="#f2b51b"/><text x="0" y="0" font-size="6.3" text-anchor="end" fill="#222" textLength="18.59" lengthAdjust="spacingAndGlyphs" transform="translate(374.56,266.40) rotate(-45)">ZRSR2</text><rect x="379.59" y="258.70" width="1.5" height="1.30" fill="#1f3a78"/><rect x="381.99" y="255.19" width="1.5" height="4.81" fill="#f2b51b"/><text x="0" y="0" font-size="6.3" text-anchor="end" fill="#222" textLength="23.34" lengthAdjust="spacingAndGlyphs" transform="translate(385.69,266.40) rotate(-45)">PTPN11</text><rect x="390.72" y="258.70" width="1.5" height="1.30" fill="#1f3a78"/><rect x="393.12" y="253.37" width="1.5" height="6.63" fill="#f2b51b"/><text x="0" y="0" font-size="6.3" text-anchor="end" fill="#222" textLength="19.95" lengthAdjust="spacingAndGlyphs" transform="translate(396.82,266.40) rotate(-45)">SH2B3</text><rect x="74.20" y="295.20" width="2.7" height="2.7" fill="#1f3a78"/><text x="79.80" y="298.60" font-size="6.1" fill="#222" textLength="23.3">Ancestral</text><rect x="111.70" y="295.20" width="2.7" height="2.7" fill="#f2b51b"/><text x="117.20" y="298.60" font-size="6.1" fill="#222" textLength="25.5">Secondary</text><rect x="152.10" y="295.20" width="2.7" height="2.7" fill="#e3861a"/><text x="157.30" y="298.60" font-size="6.1" fill="#222" textLength="11.3">Both</text><rect x="268.60" y="294.80" width="2.7" height="2.7" fill="#1f3a78"/><text x="274.00" y="298.20" font-size="6.1" fill="#222" textLength="23.1">Ancestral</text><rect x="306.00" y="294.80" width="2.7" height="2.7" fill="#f2b51b"/><text x="311.60" y="298.20" font-size="6.1" fill="#222" textLength="25.3">Secondary</text><rect x="346.10" y="294.80" width="2.7" height="2.7" fill="#e3861a"/><text x="351.60" y="298.20" font-size="6.1" fill="#222" textLength="11.3">Both</text><rect x="419.6" y="162.5" width="26.00" height="13.40" fill="#f8da8e"/><text x="432.60" y="171.70" font-size="6.4" font-style="italic" text-anchor="middle" fill="#2a2a2a" class="ns" textLength="19.3" lengthAdjust="spacingAndGlyphs">ASXL1</text><rect x="449.6" y="158.0" width="34.60" height="17.90" fill="#b2d69c"/><text x="466.90" y="169.45" font-size="7.1" font-style="italic" text-anchor="middle" fill="#2a2a2a" class="ns" textLength="14.8" lengthAdjust="spacingAndGlyphs">TET2</text><rect x="428.2" y="192.0" width="29.60" height="15.00" fill="#b6b9d7"/><text x="443.00" y="202.00" font-size="6.8" font-style="italic" text-anchor="middle" fill="#2a2a2a" class="ns" textLength="18.9" lengthAdjust="spacingAndGlyphs">SRSF2</text><rect x="476.0" y="192.0" width="29.80" height="14.60" fill="#b2d69c"/><text x="490.90" y="201.80" font-size="6.8" font-style="italic" text-anchor="middle" fill="#2a2a2a" class="ns" textLength="14.4" lengthAdjust="spacingAndGlyphs">TET2</text><rect x="476.6" y="220.2" width="27.10" height="13.30" fill="#f8da8e"/><text x="490.15" y="229.35" font-size="6.4" font-style="italic" text-anchor="middle" fill="#2a2a2a" class="ns">ASXL1</text><rect x="477.0" y="247.3" width="27.00" height="13.20" fill="#bad5f0"/><text x="490.50" y="256.40" font-size="6.4" font-style="italic" text-anchor="middle" fill="#2a2a2a" class="ns">RUNX1</text><rect x="434.5" y="280.0" width="68.7" height="18.0" fill="#e2e2e2"/><text x="469.0" y="287.3" font-size="6.8" text-anchor="middle" fill="#2a2a2a" font-style="italic" class="ns" textLength="62.4" lengthAdjust="spacingAndGlyphs">Signaling genes: CBL,</text><text x="469.0" y="294.9" font-size="6.8" text-anchor="middle" fill="#2a2a2a" font-style="italic" class="ns" textLength="55.0" lengthAdjust="spacingAndGlyphs">NRAS, KRAS, JAK2</text><line x1="432.7" y1="176.0" x2="432.7" y2="190.00" stroke="#bdbdbd" stroke-width="0.6"/><path d="M431.50,189.70 L433.90,189.70 L432.70,192.00 Z" fill="#bdbdbd"/><line x1="453.3" y1="175.8" x2="453.3" y2="189.70" stroke="#111" stroke-width="0.85"/><path d="M451.90,189.40 L454.70,189.40 L453.30,192.00 Z" fill="#111"/><line x1="480.4" y1="175.8" x2="480.4" y2="189.70" stroke="#111" stroke-width="0.85"/><path d="M479.00,189.40 L481.80,189.40 L480.40,192.00 Z" fill="#111"/><line x1="466.7" y1="205.6" x2="466.7" y2="277.70" stroke="#111" stroke-width="0.9"/><path d="M465.30,277.40 L468.10,277.40 L466.70,280.00 Z" fill="#111"/><line x1="490.5" y1="260.5" x2="490.5" y2="278.00" stroke="#bdbdbd" stroke-width="0.6"/><path d="M489.30,277.70 L491.70,277.70 L490.50,280.00 Z" fill="#bdbdbd"/><line x1="461.2" y1="196.6" x2="473.0" y2="196.6" stroke="#111" stroke-width="0.85"/><path d="M470.2,194.4 L473.8,196.6 L470.2,196.6 Z" fill="#111"/><line x1="461.6" y1="200.2" x2="473.4" y2="200.2" stroke="#111" stroke-width="0.85"/><path d="M464.6,202.4 L461.0,200.2 L464.6,200.2 Z" fill="#111"/><line x1="471.0" y1="206.0" x2="482.0" y2="218.0" stroke="#bdbdbd" stroke-width="0.6"/><path d="M480.1,218.4 L483.8,220.2 L482.6,216.2 Z" fill="#bdbdbd"/><line x1="486.5" y1="237.90" x2="486.5" y2="244.9" stroke="#bdbdbd" stroke-width="0.6"/><path d="M485.40,238.20 L487.60,238.20 L486.50,235.90 Z" fill="#bdbdbd"/><line x1="489.8" y1="235.9" x2="489.8" y2="242.90" stroke="#bdbdbd" stroke-width="0.6"/><path d="M488.70,242.60 L490.90,242.60 L489.80,244.90 Z" fill="#bdbdbd"/><rect x="0" y="0" width="520" height="1.05" fill="#000"/><rect x="0" y="0" width="1.35" height="306" fill="#000"/><rect x="518.45" y="0" width="1.55" height="306" fill="#000"/><rect x="0" y="304.8" width="520" height="1.2" fill="#000"/></svg></body></html>
